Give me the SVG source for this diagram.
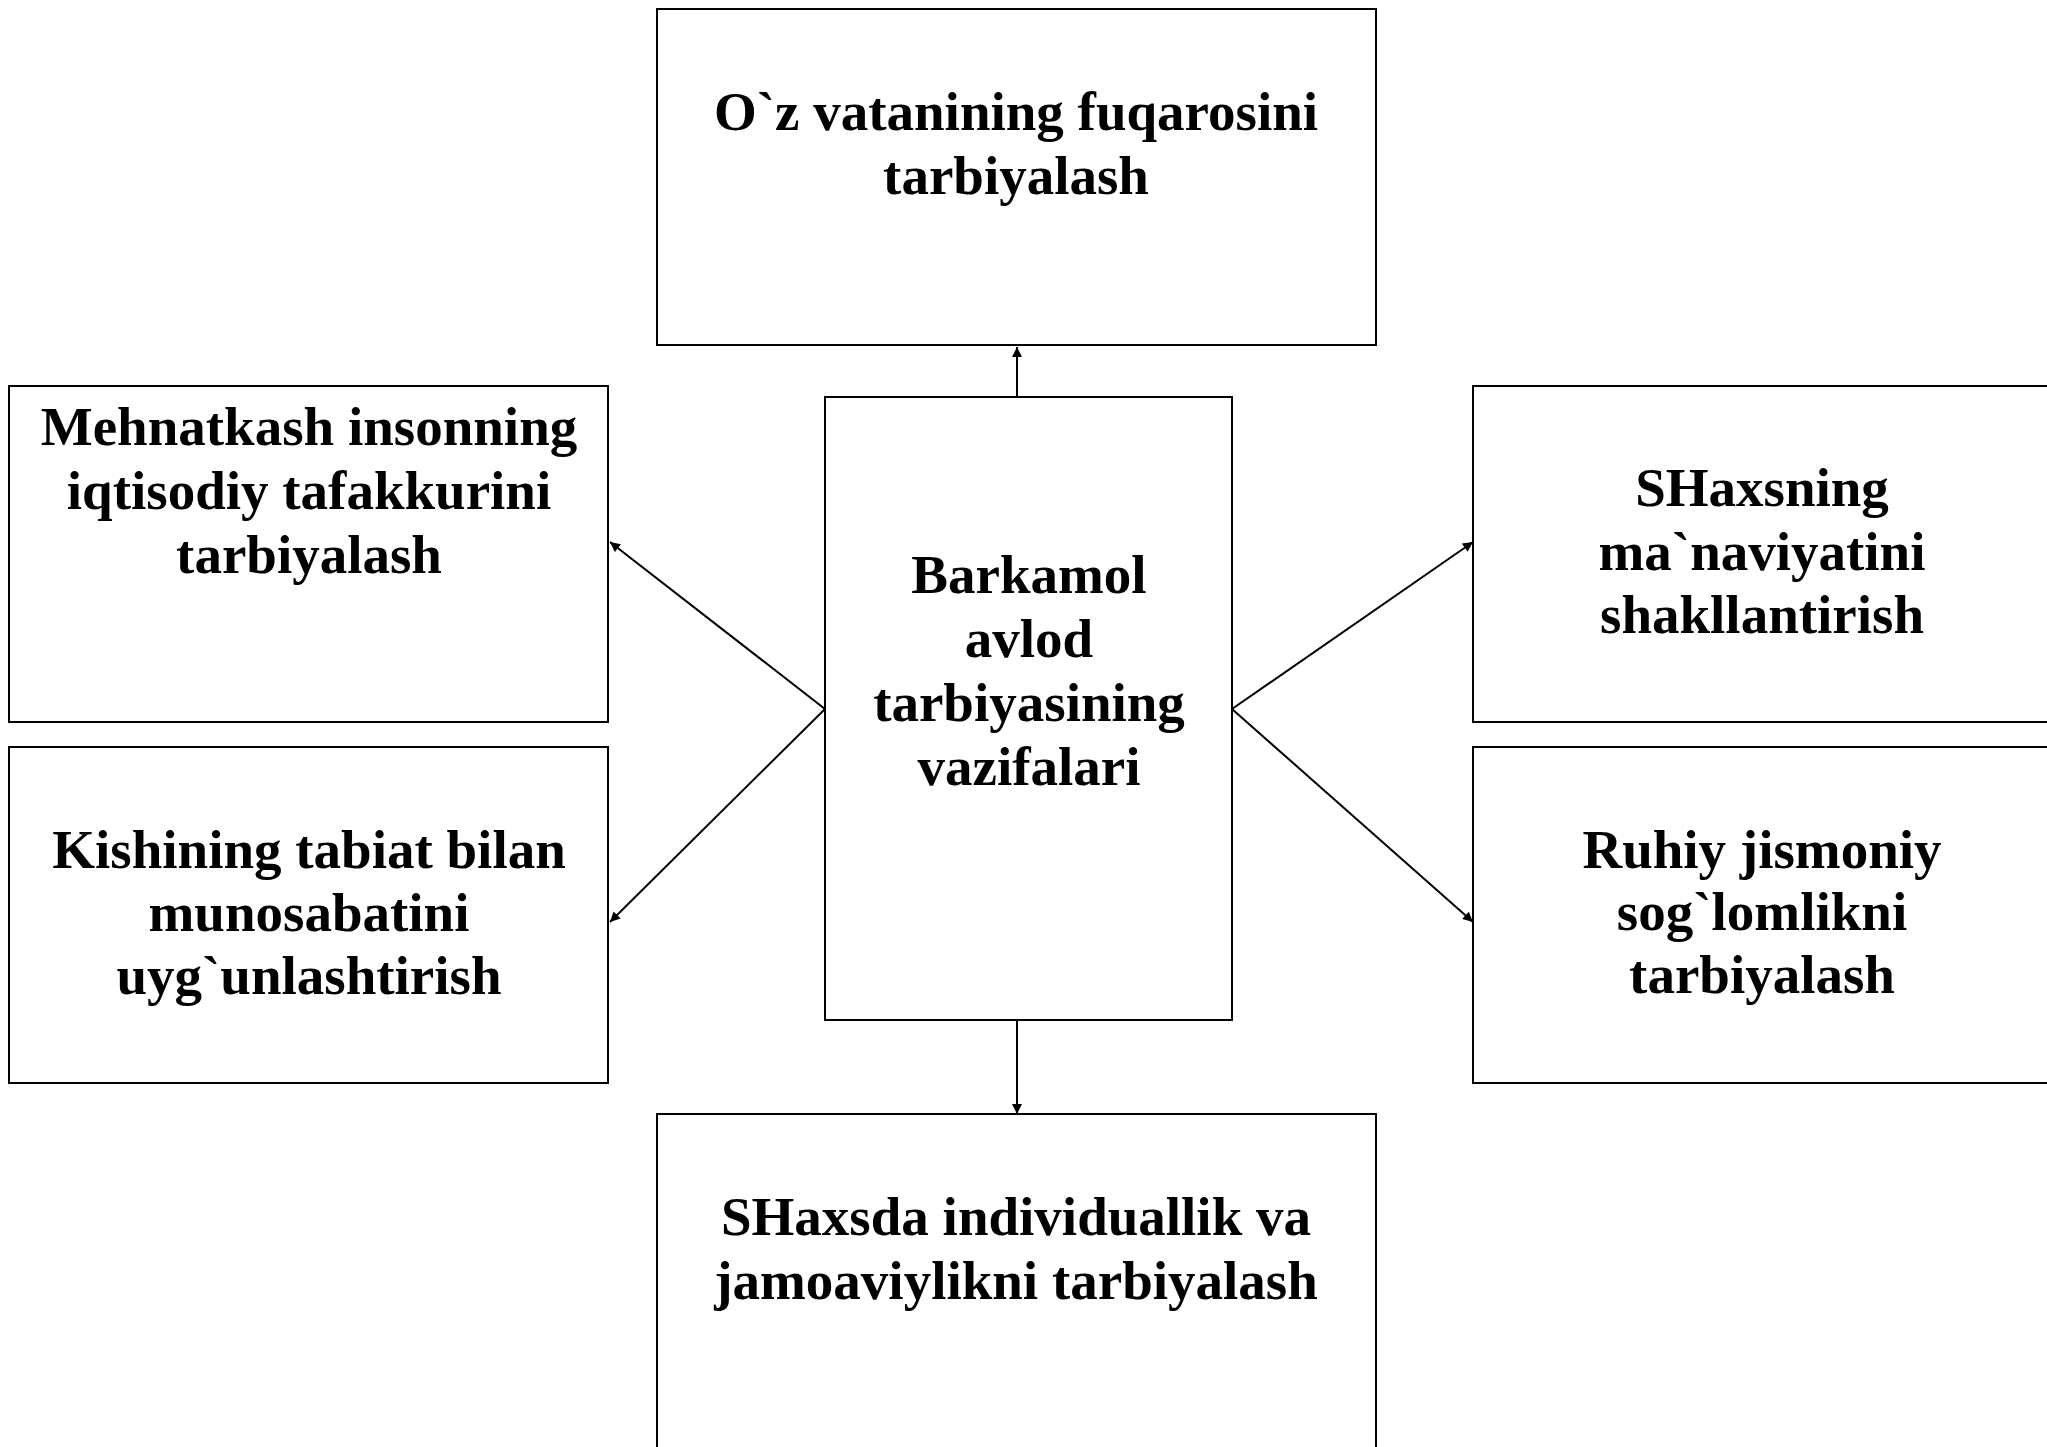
<svg xmlns="http://www.w3.org/2000/svg" width="2047" height="1447" viewBox="0 0 2047 1447">
<style>
.box{fill:#fff;stroke:#000;stroke-width:2}
.t{font-family:"Liberation Serif","Times New Roman",serif;font-weight:bold;font-size:55px;fill:#000;text-anchor:middle}
.c{stroke:#000;stroke-width:2;fill:none;marker-end:url(#ah)}
</style>
<defs>
<marker id="ah" markerUnits="userSpaceOnUse" viewBox="0 0 10 10" refX="10" refY="5" markerWidth="11" markerHeight="10" orient="auto">
<path d="M0,0 L10,5 L0,10 z" fill="#000"/>
</marker>
</defs>
<rect width="2047" height="1447" fill="#fff"/>
<g id="top">
<rect class="box" x="657" y="9" width="719" height="336"/>
<text class="t" x="1016" y="130">O`z vatanining fuqarosini</text>
<text class="t" x="1016" y="194">tarbiyalash</text>
</g>
<g id="center">
<rect class="box" x="825" y="397" width="407" height="623"/>
<text class="t" x="1029" y="593">Barkamol</text>
<text class="t" x="1029" y="657">avlod</text>
<text class="t" x="1029" y="721">tarbiyasining</text>
<text class="t" x="1029" y="785">vazifalari</text>
</g>
<g id="left-top">
<rect class="box" x="9" y="386" width="599" height="336"/>
<text class="t" x="309" y="445">Mehnatkash insonning</text>
<text class="t" x="309" y="509">iqtisodiy tafakkurini</text>
<text class="t" x="309" y="573">tarbiyalash</text>
</g>
<g id="left-bottom">
<rect class="box" x="9" y="747" width="599" height="336"/>
<text class="t" x="309" y="868">Kishining tabiat bilan</text>
<text class="t" x="309" y="931">munosabatini</text>
<text class="t" x="309" y="994">uyg`unlashtirish</text>
</g>
<g id="right-top">
<rect class="box" x="1473" y="386" width="599" height="336"/>
<text class="t" x="1762" y="506">SHaxsning</text>
<text class="t" x="1762" y="570">ma`naviyatini</text>
<text class="t" x="1762" y="633">shakllantirish</text>
</g>
<g id="right-bottom">
<rect class="box" x="1473" y="747" width="599" height="336"/>
<text class="t" x="1762" y="868">Ruhiy jismoniy</text>
<text class="t" x="1762" y="930">sog`lomlikni</text>
<text class="t" x="1762" y="993">tarbiyalash</text>
</g>
<g id="bottom">
<rect class="box" x="657" y="1114" width="719" height="340"/>
<text class="t" x="1016" y="1235">SHaxsda individuallik va</text>
<text class="t" x="1016" y="1299">jamoaviylikni tarbiyalash</text>
</g>
<g id="connectors">
<line class="c" x1="1017" y1="397" x2="1017" y2="347"/>
<line class="c" x1="1017" y1="1020" x2="1017" y2="1114"/>
<line class="c" x1="825" y1="709" x2="610" y2="542"/>
<line class="c" x1="825" y1="709" x2="610" y2="922"/>
<line class="c" x1="1232" y1="709" x2="1473" y2="542"/>
<line class="c" x1="1232" y1="709" x2="1473" y2="922"/>
</g>
</svg>
